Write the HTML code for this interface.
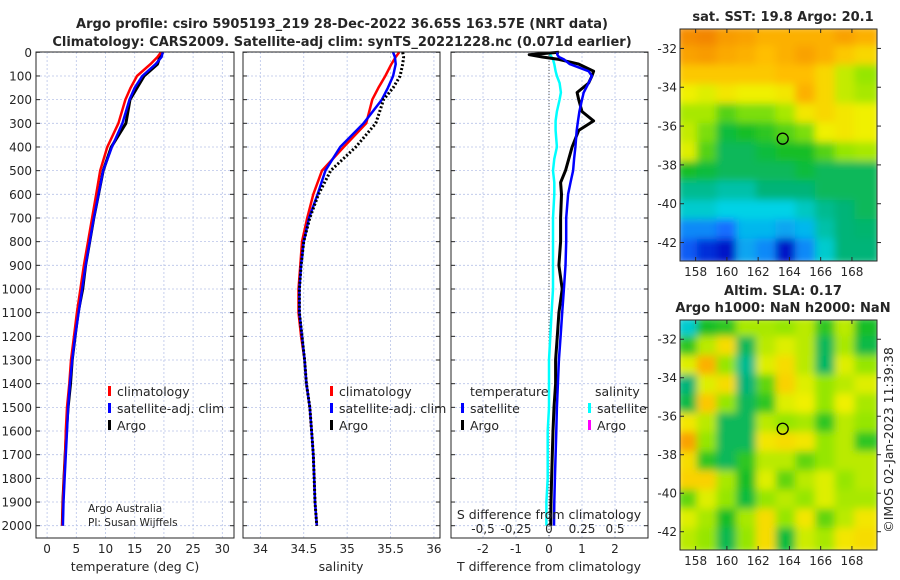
<!DOCTYPE html>
<html><head><meta charset="utf-8"><style>
html,body{margin:0;padding:0;background:#fff;width:900px;height:580px;overflow:hidden}
svg text{font-family:"DejaVu Sans","Liberation Sans",sans-serif;fill:#262626}
</style></head><body>
<svg id="fig" width="900" height="580" xmlns="http://www.w3.org/2000/svg">
<defs>
<filter id="blurS" x="0" y="0" width="1" height="1"><feGaussianBlur stdDeviation="4"/></filter>
<filter id="blurL" x="0" y="0" width="1" height="1"><feGaussianBlur stdDeviation="4"/></filter>
<clipPath id="clipTop"><rect x="680" y="29" width="197" height="232"/></clipPath>
<clipPath id="clipBot"><rect x="680" y="320" width="197" height="230"/></clipPath>
</defs>
<text x="342" y="28" text-anchor="middle" font-size="13" font-weight="bold">Argo profile: csiro 5905193_219 28-Dec-2022 36.65S 163.57E (NRT data)</text>
<text x="342" y="46" text-anchor="middle" font-size="13" font-weight="bold">Climatology: CARS2009. Satellite-adj clim: synTS_20221228.nc (0.071d earlier)</text>
<g id="plots"></g>
</svg>
<script>
// ---- depth levels ----
const depths=[0,20,50,100,150,200,300,400,500,600,700,800,900,1000,1100,1200,1300,1400,1500,1600,1700,1800,1900,2000];
// temperature (deg C)
const tClim=[19.5,18.9,17.7,15.4,14.3,13.4,12.2,10.3,9.1,8.4,7.7,7.0,6.3,5.7,5.1,4.6,4.1,3.8,3.4,3.2,3.1,2.9,2.7,2.6];
const tSat=[19.8,19.6,18.6,16.3,15.0,14.1,12.9,11.1,9.6,8.8,8.0,7.3,6.6,6.0,5.4,4.8,4.3,3.9,3.6,3.4,3.2,3.0,2.8,2.7];
const tArgo=[19.8,19.3,18.9,16.6,15.4,14.2,13.5,11.0,9.6,8.8,8.0,7.3,6.6,6.1,5.3,4.8,4.3,4.0,3.6,3.3,3.1,2.9,2.7,2.6];
// salinity
const sClim=[35.60,35.56,35.51,35.44,35.36,35.29,35.22,34.96,34.71,34.61,34.54,34.48,34.46,34.44,34.44,34.47,34.51,34.53,34.57,34.59,34.61,34.62,34.63,34.65];
const sSat=[35.53,35.55,35.56,35.53,35.47,35.40,35.19,34.92,34.75,34.66,34.56,34.50,34.47,34.45,34.45,34.48,34.51,34.53,34.57,34.59,34.61,34.62,34.63,34.65];
const sArgo=[35.64,35.65,35.64,35.61,35.53,35.42,35.33,35.10,34.81,34.67,34.57,34.50,34.47,34.45,34.45,34.48,34.51,34.53,34.57,34.59,34.61,34.62,34.63,34.65];
// differences from climatology
const dDepths=[0,10,20,30,50,80,100,130,170,200,250,290,330,400,450,500,550,600,700,800,900,1000,1100,1200,1300,1400,1500,1600,1700,1800,1900,2000];
const dTsat=[0.25,0.25,0.3,0.45,0.63,1.2,1.3,1.2,1.05,1.0,0.92,0.88,0.84,0.8,0.76,0.73,0.65,0.58,0.52,0.52,0.5,0.45,0.4,0.35,0.3,0.27,0.24,0.22,0.2,0.18,0.16,0.15];
const dTargo=[0.3,-0.6,-0.2,0.3,0.9,1.35,1.3,1.2,0.85,0.9,1.0,1.35,0.9,0.7,0.6,0.5,0.35,0.38,0.35,0.35,0.3,0.4,0.3,0.25,0.2,0.2,0.15,0.12,0.1,0.08,0.06,0.05];
const dSsat=[0,0.01,0.02,0.03,0.04,0.05,0.06,0.08,0.09,0.08,0.06,0.05,0.05,0.06,0.04,0.03,0.04,0.04,0.03,0.03,0.03,0.03,0.02,0.01,0.0,0.0,0.0,-0.01,-0.01,-0.01,-0.02,-0.02];
// axis ticks
const depthTicks=[0,100,200,300,400,500,600,700,800,900,1000,1100,1200,1300,1400,1500,1600,1700,1800,1900,2000];
const tTicks=[0,5,10,15,20,25,30];
const sTicks=[34,34.5,35,35.5,36];
const sTickLabels=["34","34.5","35","35.5","36"];
const dTTicks=[-2,-1,0,1,2];
const dSTicks=[-0.5,-0.25,0,0.25,0.5];
const dSTickLabels=["-0,5","-0,25","0","0.25","0.5"];
// maps
const lonTicks=[158,160,162,164,166,168];
const latTicks=[-32,-34,-36,-38,-40,-42];
const sstGrid=[
[.87,.88,.85,.84,.82,.82,.82,.82,.84,.82],
[.84,.85,.83,.82,.8,.82,.84,.82,.78,.75],
[.78,.78,.78,.78,.78,.8,.8,.75,.65,.6],
[.7,.68,.72,.7,.7,.72,.82,.75,.65,.62],
[.62,.62,.55,.58,.58,.62,.72,.75,.72,.7],
[.65,.58,.48,.5,.52,.55,.58,.7,.72,.7],
[.68,.55,.45,.45,.48,.5,.5,.55,.6,.62],
[.5,.48,.45,.45,.45,.45,.48,.45,.45,.45],
[.4,.4,.38,.38,.42,.42,.42,.45,.45,.45],
[.35,.35,.33,.33,.33,.33,.36,.4,.42,.45],
[.25,.25,.22,.3,.3,.28,.3,.38,.42,.43],
[.2,.15,.12,.28,.25,.12,.25,.35,.42,.42]];
const slaGrid=[
[.35,.5,.52,.62,.62,.6,.64,.52,.64,.5],
[.52,.64,.74,.45,.64,.68,.64,.45,.62,.47],
[.68,.82,.6,.4,.68,.74,.64,.44,.68,.6],
[.42,.68,.74,.42,.56,.76,.68,.6,.64,.68],
[.47,.78,.6,.45,.52,.68,.7,.6,.7,.62],
[.72,.64,.45,.45,.64,.6,.62,.52,.64,.6],
[.84,.6,.45,.45,.72,.74,.72,.6,.64,.52],
[.74,.52,.45,.52,.64,.64,.56,.6,.64,.64],
[.76,.76,.62,.5,.68,.56,.64,.68,.6,.64],
[.56,.68,.6,.48,.6,.64,.6,.68,.62,.62],
[.68,.62,.5,.62,.74,.6,.72,.56,.64,.72],
[.64,.6,.46,.6,.74,.48,.66,.62,.72,.74]];
const floatLon=163.57, floatLat=-36.65;

const NS="http://www.w3.org/2000/svg";
const root=document.getElementById('plots');
function mk(tag,attrs,parent){const e=document.createElementNS(NS,tag);for(const k in attrs)e.setAttribute(k,attrs[k]);(parent||root).appendChild(e);return e;}
const top0=52, bot=538;
const yD=d=>52.3+d*0.2367;
function panel(name,x0,x1,xmin,xmax){
  const xs=v=>x0+(v-xmin)/(xmax-xmin)*(x1-x0);
  const g=mk('g',{});
  
  
  return {g,xs,x0,x1};
}
function frame(p,xt,yLabels){
  const g=p.g;
  xt.forEach(v=>{const l=mk('line',{x1:p.xs(v),x2:p.xs(v),y1:top0,y2:bot,stroke:'#b8c4e8','stroke-width':0.8,'stroke-dasharray':'2,2'},g);});
  depthTicks.forEach(d=>{const l=mk('line',{x1:p.x0,x2:p.x1,y1:yD(d),y2:yD(d),stroke:'#b8c4e8','stroke-width':0.8,'stroke-dasharray':'2,2'},g);
    mk('line',{x1:p.x0,x2:p.x0+4,y1:yD(d),y2:yD(d),stroke:'#262626'},g);mk('line',{x1:p.x1,x2:p.x1-4,y1:yD(d),y2:yD(d),stroke:'#262626'},g);
    if(yLabels){const t=mk('text',{x:p.x0-4,y:yD(d)+4.5,'text-anchor':'end','font-size':12},g);t.textContent=d;}
  });
}
function border(p){const r=mk('rect',{x:p.x0,y:top0,width:p.x1-p.x0,height:bot-top0,fill:'none',stroke:'#262626','stroke-width':1},p.g);}
function line(p,xv,dv,color,w,name,dash){
  const pts=xv.map((v,i)=>p.xs(v).toFixed(1)+','+yD(dv[i]).toFixed(1)).join(' ');
  const a={points:pts,fill:'none',stroke:color,'stroke-width':w,'stroke-linejoin':'round'};if(dash)a['stroke-dasharray']=dash;
  const e=mk('polyline',a,p.g);
}
function txt(g,x,y,s,size,anchor,name){const t=mk('text',{x:x,y:y,'font-size':size,'text-anchor':anchor||'start'},g);t.textContent=s;return t;}
function legend(g,x,y,items){items.forEach((it,i)=>{const m=mk('rect',{x:x,y:y+i*17-10,width:3,height:10,fill:it[1]},g);txt(g,x+9,y+i*17,it[0],12.5,'start','legend-entry');});}

// Panel 1: temperature
const p1=panel('temperature-panel',36,234,-1.9,32.0);
frame(p1,tTicks,true);
line(p1,tArgo,depths,'#000',3,'argo-temperature-line');
line(p1,tClim,depths,'#ff0000',2.5,'climatology-temperature-line');
line(p1,tSat,depths,'#0000ff',2.5,'satellite-temperature-line');
border(p1);
tTicks.forEach(v=>txt(p1.g,p1.xs(v),553,v,12,'middle','x-tick-label'));
txt(p1.g,135,571,'temperature (deg C)',12.5,'middle','x-axis-title');
legend(p1.g,108,396,[['climatology','#ff0000'],['satellite-adj. clim','#0000ff'],['Argo','#000']]);
txt(p1.g,88,512,'Argo Australia',10.5,'start','credit-text');
txt(p1.g,88,526,'PI: Susan Wijffels',10.5,'start','pi-text');

// Panel 2: salinity
const p2=panel('salinity-panel',243,440,33.8,36.07);
frame(p2,sTicks,false);
line(p2,sClim,depths,'#ff0000',2.5,'climatology-salinity-line');
line(p2,sSat,depths,'#0000ff',2.5,'satellite-salinity-line');
line(p2,sArgo,depths,'#000',3,'argo-salinity-line','2,2');
border(p2);
sTicks.forEach((v,i)=>txt(p2.g,p2.xs(v),553,sTickLabels[i],12,'middle','x-tick-label'));
txt(p2.g,341,571,'salinity',12.5,'middle','x-axis-title');
legend(p2.g,330,396,[['climatology','#ff0000'],['satellite-adj. clim','#0000ff'],['Argo','#000']]);

// Panel 3: differences
const p3=panel('difference-panel',451,648,-2.97,3.0);
frame(p3,dTTicks,false);
const zx=p3.xs(0);
const zl=mk('line',{x1:zx,x2:zx,y1:top0,y2:bot,stroke:'#555','stroke-width':1,'stroke-dasharray':'1,2'},p3.g);
line(p3,dSsat.map(v=>v*4),dDepths,'#00ffff',2.5,'satellite-salinity-diff-line');
line(p3,dTargo,dDepths,'#000',3,'argo-temperature-diff-line');
line(p3,dTsat,dDepths,'#0000ff',2.5,'satellite-temperature-diff-line');
border(p3);
dTTicks.forEach(v=>txt(p3.g,p3.xs(v),553,v,12,'middle','x-tick-label'));
dSTicks.forEach((v,i)=>txt(p3.g,p3.xs(v*4),533,dSTickLabels[i],12,'middle','s-tick-label'));
txt(p3.g,549,519,'S difference from climatology',12.5,'middle','s-axis-title');
txt(p3.g,549,571,'T difference from climatology',12.5,'middle','x-axis-title');
txt(p3.g,470,396,'temperature',12.5,'start','legend-title');
legend(p3.g,461,413,[['satellite','#0000ff'],['Argo','#000']]);
txt(p3.g,595,396,'salinity',12.5,'start','legend-title');
legend(p3.g,588,413,[['satellite','#00ffff'],['Argo','#ff00ff']]);

// Maps
function jet(v){
  const stops=[[0,[0,0,140]],[0.12,[0,20,200]],[0.22,[20,110,255]],[0.33,[0,210,230]],[0.42,[0,180,120]],[0.5,[20,190,40]],[0.6,[150,230,0]],[0.7,[240,240,0]],[0.8,[255,190,0]],[0.9,[240,120,0]],[1,[200,40,0]]];
  for(let i=1;i<stops.length;i++){if(v<=stops[i][0]){const a=stops[i-1],b=stops[i],t=(v-a[0])/(b[0]-a[0]);return 'rgb('+a[1].map((c,k)=>Math.round(c+(b[1][k]-c)*t)).join(',')+')';}}
  return 'rgb(200,40,0)';
}
function map(name,y0,y1,grid,blur,titleLines){
  const g=mk('g',{});
  const x0=680,x1=877;
  const lx=l=>x0+(l-157.0)*15.63;
  const ly=la=>y0+(-31.0-la)*(y1-y0)/11.95;
  const cells=mk('g',{'clip-path':'url(#'+(name==='sst-map'?'clipTop':'clipBot')+')'},g);
  const inner=mk('g',{filter:'url(#'+blur+')'},cells);
  const nr=grid.length,nc=grid[0].length,cw=(x1-x0)/nc,ch=(y1-y0)/nr;
  mk('rect',{x:x0,y:y0,width:x1-x0,height:y1-y0,fill:jet(0.55)},inner);
  grid.forEach((row,r)=>row.forEach((v,c)=>{const e=mk('rect',{x:x0+c*cw-3,y:y0+r*ch-3,width:cw+6,height:ch+6,fill:jet(v)},inner);}));
  const b=mk('rect',{x:x0,y:y0,width:x1-x0,height:y1-y0,fill:'none',stroke:'#262626'},g);
  const c=mk('circle',{cx:lx(floatLon),cy:ly(floatLat),r:5.5,fill:'none',stroke:'#000','stroke-width':1.3},g);
  lonTicks.forEach(l=>{mk('line',{x1:lx(l),x2:lx(l),y1:y1,y2:y1-4,stroke:'#262626'},g);mk('line',{x1:lx(l),x2:lx(l),y1:y0,y2:y0+4,stroke:'#262626'},g);txt(g,lx(l),y1+15,l,12,'middle','lon-tick-label');});
  latTicks.forEach(la=>{mk('line',{x1:x0,x2:x0+4,y1:ly(la),y2:ly(la),stroke:'#262626'},g);mk('line',{x1:x1,x2:x1+4,y1:ly(la),y2:ly(la),stroke:'#262626'},g);txt(g,x0-3,ly(la)+4.5,la,12,'end','lat-tick-label');});
  titleLines.forEach((s,i)=>{const t=txt(g,783,y0-8-(titleLines.length-1-i)*17,s,13,'middle','map-title');t.setAttribute('font-weight','bold');});
}
map('sst-map',29,261,sstGrid,'blurS',['sat. SST: 19.8 Argo: 20.1']);
map('sla-map',320,550,slaGrid,'blurL',['Altim. SLA: 0.17','Argo h1000: NaN h2000: NaN']);
const im=txt(root,0,0,'©IMOS 02-Jan-2023 11:39:38',12.5,'middle','imos-timestamp');
im.setAttribute('transform','translate(893,440) rotate(-90)');
</script>
</body></html>
